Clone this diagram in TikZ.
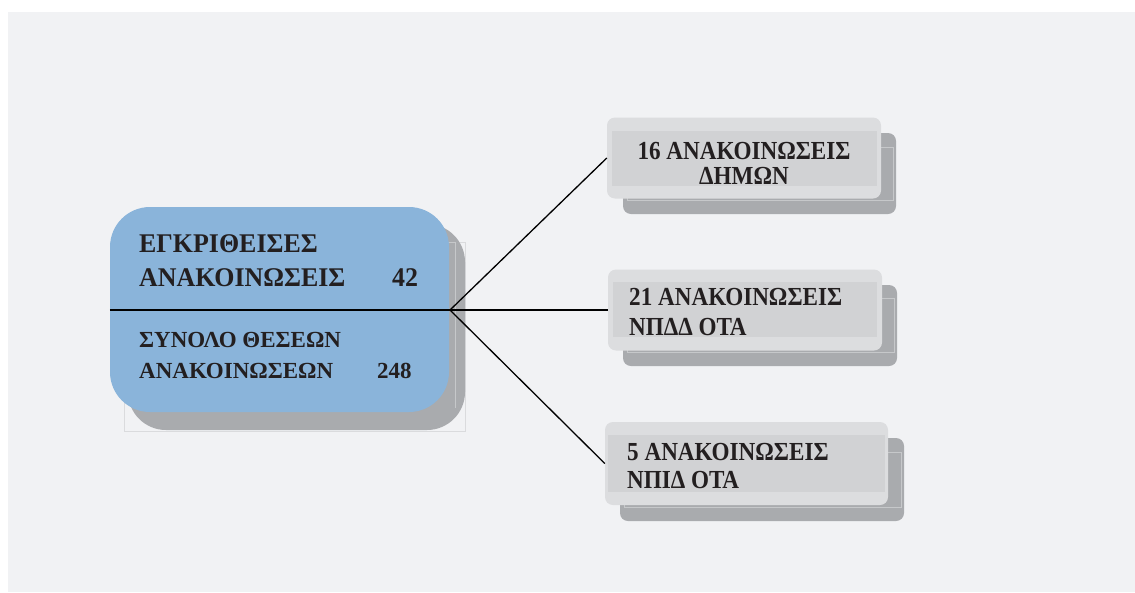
\documentclass[tikz,border=0pt]{standalone}
\usepackage{fontspec}
\setmainfont{Liberation Serif}
\newfontfamily\narrowserif[FakeStretch=0.89]{Liberation Serif}
\newfontfamily\midserif[FakeStretch=0.96]{Liberation Serif}
\definecolor{bgpanel}{HTML}{F1F2F4}
\definecolor{mainblue}{HTML}{8AB4DA}
\definecolor{shadowgrey}{HTML}{A9ABAE}
\definecolor{shadowline}{HTML}{C6C8CA}
\definecolor{frameline}{HTML}{DADBDD}
\definecolor{boxlight}{HTML}{DCDDDF}
\definecolor{boxinner}{HTML}{D1D2D4}
\definecolor{textdark}{HTML}{231F20}
\begin{document}
\begin{tikzpicture}[x=1pt,y=-1pt,
  mainbox/.style={draw=none,fill=mainblue,rounded corners=40pt,inner sep=0pt,minimum width=339pt,minimum height=205pt},
  mainshadow/.style={fill=shadowgrey,rounded corners=38pt},
  sbox/.style={draw=none,fill=boxlight,rounded corners=8pt,inner sep=0pt,minimum width=274pt,minimum height=81pt},
  sshadow/.style={fill=shadowgrey,rounded corners=8pt},
  sframe/.style={draw=shadowline,line width=0.8pt},
  sinner/.style={fill=boxinner},
  bigtxt/.style={inner sep=0pt,font=\midserif\fontsize{27}{30}\selectfont\bfseries,text=textdark},
  lowtxt/.style={inner sep=0pt,font=\fontsize{23}{28}\selectfont\bfseries,text=textdark},
  smalltxt/.style={inner sep=0pt,font=\narrowserif\fontsize{26}{28}\selectfont\bfseries,text=textdark},
  conn/.style={draw=black,line width=1.3pt}]
\useasboundingbox (0,0) rectangle (1135,592);
\fill[white] (0,0) rectangle (1135,592);
\fill[bgpanel] (8,12) rectangle (1135,592);

% main box with shadow
\draw[frameline,line width=0.8pt] (124,242) rectangle (465,431);
\fill[mainshadow] (128,224) rectangle (465,430);
\draw[sframe] (124,242) -- (455,242) -- (455,408);
\node[mainbox] (main) at (279.5,309.5) {};
\node[bigtxt,anchor=base west] (t1) at (139,252) {ΕΓΚΡΙΘΕΙΣΕΣ};
\node[bigtxt,anchor=base west] (t2) at (139,286) {ΑΝΑΚΟΙΝΩΣΕΙΣ};
\node[bigtxt,anchor=base west] (n1) at (392,286) {42};
\node[lowtxt,anchor=base west] (t3) at (139,347) {ΣΥΝΟΛΟ ΘΕΣΕΩΝ};
\node[lowtxt,anchor=base west] (t4) at (139,378) {ΑΝΑΚΟΙΝΩΣΕΩΝ};
\node[lowtxt,anchor=base west] (n2) at (377,378) {248};

% top box
\fill[sshadow] (623,133) rectangle (896,214);
\draw[sframe] (627,147) rectangle (893,200);
\node[sbox] (b1) at (744,158) {};
\fill[sinner] (612,131) rectangle (877,186);
\node[smalltxt,anchor=base] (b1a) at (744,159) {16 ΑΝΑΚΟΙΝΩΣΕΙΣ};
\node[smalltxt,anchor=base] (b1b) at (744,184) {ΔΗΜΩΝ};

% middle box
\fill[sshadow] (623,285) rectangle (897,366);
\draw[sframe] (627,298) rectangle (894,352);
\node[sbox] (b2) at (745,310) {};
\fill[sinner] (613,282) rectangle (877,337);
\node[smalltxt,anchor=base west] (b2a) at (629,305) {21 ΑΝΑΚΟΙΝΩΣΕΙΣ};
\node[smalltxt,anchor=base west] (b2b) at (629,335) {ΝΠΔΔ ΟΤΑ};

% bottom box
\fill[sshadow] (620,438) rectangle (904,521);
\draw[sframe] (624,452) rectangle (901,507);
\node[sbox,minimum width=283pt,minimum height=83pt] (b3) at (746.5,463.5) {};
\fill[sinner] (608,435) rectangle (885,492);
\node[smalltxt,anchor=base west] (b3a) at (627,460) {5 ΑΝΑΚΟΙΝΩΣΕΙΣ};
\node[smalltxt,anchor=base west] (b3b) at (627,488) {ΝΠΙΔ ΟΤΑ};

% connectors
\coordinate (hub) at (450,310);
\draw[conn] (main.west |- hub) -- (hub);
\draw[conn] (hub) -- (b1.west);
\draw[conn] (hub) -- (b2.west);
\draw[conn] (hub) -- (b3.west);
\end{tikzpicture}
\end{document}
